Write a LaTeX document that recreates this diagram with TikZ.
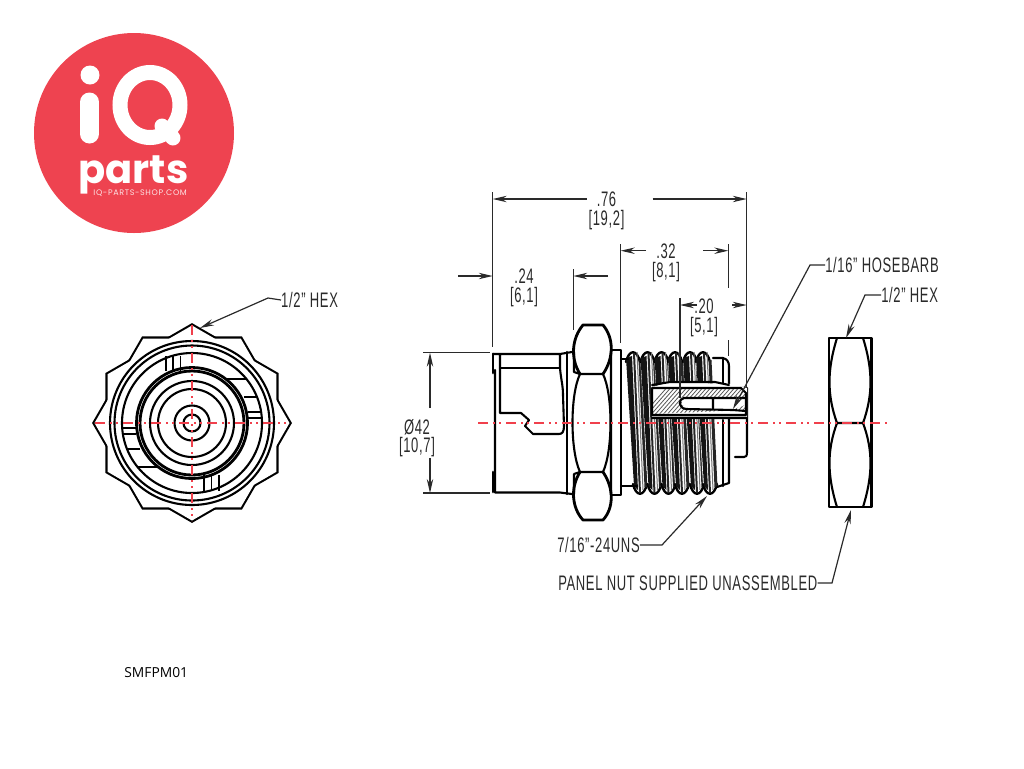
\documentclass[tikz,border=0pt]{standalone}
\usepackage{fontspec}
\setmainfont[LetterSpace=5]{Liberation Sans}
\newfontfamily\logofont{Poppins}
\newfontfamily\logosmall[LetterSpace=8]{Poppins}
\newfontfamily\codefont{Open Sans}
\usetikzlibrary{arrows.meta}
\definecolor{logored}{HTML}{EE4350}
\definecolor{inkgrey}{HTML}{2A2A2A}
\definecolor{linered}{HTML}{F0404C}
\tikzset{
  part/.style={line width=1.05pt,line join=round,line cap=round},
  thin part/.style={line width=.85pt,line join=round},
  center line/.style={color=linered,line width=.65pt,dash pattern=on 5pt off 2.5pt on 1pt off 2pt on 1pt off 2.5pt},
  ext/.style={color=inkgrey,line width=.6pt},
  dim/.style={color=inkgrey,line width=.6pt,-{Stealth[length=7pt,width=3.2pt]}},
  leader/.style={color=inkgrey,line width=.6pt,{Stealth[length=7pt,width=3.2pt]}-},
  dimtext/.style={color=inkgrey,inner sep=0pt,font=\fontsize{10.5}{10.5}\selectfont,xscale=.62,transform shape},
}
\begin{document}
\begin{tikzpicture}[x=.5pt,y=-.5pt]
\useasboundingbox (0,0) rectangle (1024,768);
% logo
\fill[logored] (134,133) circle[radius=100];
\fill[white] (90,75) circle[radius=9.5];
\draw[white,line width=9.5pt,line cap=round] (89.5,102) -- (89.5,134);
\draw[white,line width=7.5pt] (150,105) ellipse[x radius=30,y radius=32.5];
\draw[white,line width=7.5pt,line cap=round] (162,126) -- (173,138);
\node[white,inner sep=0pt,anchor=base west,font=\logofont\bfseries\fontsize{20}{20}\selectfont] (logoparts) at (78,183) {parts};
\node[white!85!logored,inner sep=0pt,anchor=base west,font=\logosmall\fontsize{4}{4}\selectfont] (logoshop) at (93,195) {IQ-PARTS-SHOP.COM};
\node[black,inner sep=0pt,anchor=base west,font=\codefont\fontsize{6.9}{6.9}\selectfont] (partcode) at (124,677) {SMFPM01};
% front view
\foreach \a in {0,90} \draw[line width=2.1pt,line join=miter,shift={(192,423)},rotate=\a] (90:97.5) -- (150:97.5) -- (210:97.5) -- (270:97.5) -- (330:97.5) -- (30:97.5) -- cycle;
\foreach \a in {0,90} \fill[white,shift={(192,423)},rotate=\a] (90:97.5) -- (150:97.5) -- (210:97.5) -- (270:97.5) -- (330:97.5) -- (30:97.5) -- cycle;
\foreach \r in {82,77.5,70,42,34,17.5,8.5} \draw[part] (192,423) circle[radius=\r];
\foreach \r in {55.5,52} \draw[part,line width=1.4pt] (192,423) circle[radius=\r];
\foreach \x in {166,173,180.5} \draw[thin part] (\x,356) -- (\x,371);
\foreach \x in {204,211.5,219} \draw[thin part] (\x,475) -- (\x,491);
\draw[thin part] (227,379) -- (247,379) (244,397) -- (257,397) (248,412) -- (262,412) (248,418) -- (262,418);
\draw[thin part] (122,428) -- (136,428) (122,434) -- (136,434) (127,449) -- (140,449) (137,467) -- (157,467);
\draw[center line] (192,325) -- (192,521);
\draw[center line] (95,423) -- (290,423);
% side view, threads
\foreach \x in {633,647.5,661.5,675,690,703} {
  \fill[white] (\x-7,362) .. controls (\x-4,349) and (\x+4,349) .. (\x+7,362) -- (\x+14,484) .. controls (\x+11,497) and (\x+3,497) .. (\x,484) -- cycle;
  \draw[part,line width=1.2pt] (\x-7,362) .. controls (\x-4,349) and (\x+4,349) .. (\x+7,362);
  \draw[part,line width=1.2pt] (\x,484) .. controls (\x+3,497) and (\x+11,497) .. (\x+14,484);
  \fill[black!92] (\x-7,358) -- (\x-1,356) -- (\x+5,490) -- (\x+1,486) -- cycle;
  \draw[line width=1pt,black!85] (\x+1,353) -- (\x+7,493);
  \draw[line width=1.5pt,black!85] (\x+7,360) -- (\x+13,487);
  \draw[line width=.5pt,black!55] (\x+4,352) -- (\x+10,490);
}
% side view, body
\draw[part] (493,354) -- (560,354) -- (560,368) .. controls (561,380) and (563,385) .. (563,395) -- (564,426) .. controls (564,432) and (562,434) .. (559,434) -- (533,434) -- (525,426) -- (529,420) -- (521,413) -- (500,413) (500,354) -- (500,413);
\draw[part] (500,368) -- (560,368);
\draw[part] (560,354) -- (572,352) (495,370) -- (495,492.5) -- (560,492.5) -- (572,494);
\draw[part,line width=1.4pt] (493,354) -- (493,373) (493,472) -- (493,492);
\draw[part] (567,352) -- (567,494);
% side view, hex and flange
\draw[part,line width=1.4pt] (580,374) .. controls (570,358) and (572,338) .. (583,325) -- (603,325) .. controls (614,338) and (614,358) .. (603,374);
\draw[part,line width=1.4pt] (580,472) .. controls (570,488) and (572,508) .. (583,520) -- (603,520) .. controls (614,508) and (614,488) .. (603,472);
\draw[part] (580,374) -- (603,374) .. controls (613,395) and (613,450) .. (603,472) -- (580,472) .. controls (570,450) and (570,395) .. (580,374);
\draw[part] (574,352) -- (574,372) -- (580,374) (574,494) -- (574,474) -- (580,472) (611,352) -- (611,494);
\draw[part] (611,350) -- (621,350) -- (621,495) -- (611,495);
\draw[part] (621,359) -- (628,359) (621,486) -- (637,486);
% side view, right end
\draw[part] (713,358) -- (723,358) .. controls (727,359) and (729,362) .. (729,366) -- (729,483) -- (717,487);
\draw[part] (723,358) -- (723,384) (723,420) -- (723,486);
\draw[part] (729,388) -- (747,388) -- (747,452) .. controls (747,456) and (746,457) .. (744,457) -- (735,457);
% barb section
\fill[white] (652,387) -- (670,382) -- (730,384) -- (747,388) -- (747,418) -- (652,418) -- cycle;
\begin{scope}
\clip (652,388) -- (741,388) -- (746,393) -- (746,410) -- (652,414) -- cycle;
\foreach \k in {0,4,...,160} \draw[black!65,line width=.4pt] (640+\k,418) -- (670+\k,384);
\end{scope}
\fill[white] (684,398) -- (745,398) -- (745,405) -- (734,409) -- (688,409) .. controls (682,409) and (680,398) .. (684,398) -- cycle;
\draw[part] (652,388) -- (741,388) -- (746,393) -- (746,415) -- (652,415) -- (652,388) (652,418) -- (747,418);
\draw[part] (652,385) -- (670,382) -- (715,382) -- (729,385);
\draw[part] (745,398) -- (684,398) .. controls (678,399) and (678,408) .. (686,409) -- (733,410) (713,398) -- (713,408) (746,411) -- (733,410);
% panel nut
\draw[part,line width=1.2pt] (829,338) rectangle (871.5,507);
\draw[part] (837,338) .. controls (827,370) and (827,395) .. (837,423) -- (863,423) .. controls (873,395) and (873,370) .. (863,338);
\draw[part] (837,507) .. controls (827,475) and (827,450) .. (837,423) (863,423) .. controls (873,450) and (873,475) .. (863,507);
\draw[center line] (478,423) -- (889,423);
% labels
\node[dimtext] (d76a) at (606.5,199) {.76};
\node[dimtext] (d76b) at (606.5,220) {[19,2]};
\node[dimtext] (d32a) at (666,251) {.32};
\node[dimtext] (d32b) at (666,272) {[8,1]};
\node[dimtext] (d24a) at (524,276) {.24};
\node[dimtext] (d24b) at (524,297) {[6,1]};
\node[dimtext] (d20a) at (704,306) {.20};
\node[dimtext] (d20b) at (704,327) {[5,1]};
\node[dimtext] (d42a) at (417,427) {Ø42};
\node[dimtext] (d42b) at (417,447) {[10,7]};
\node[dimtext,anchor=west] (hexfront) at (281,300) {1/2" HEX};
\node[dimtext,anchor=west] (hexnut) at (881,295) {1/2" HEX};
\node[dimtext,anchor=west] (barb) at (825,265) {1/16" HOSEBARB};
\node[dimtext,anchor=west] (thread) at (557,545) {7/16"-24UNS};
\node[dimtext,anchor=west] (nutnote) at (558,583) {PANEL NUT SUPPLIED UNASSEMBLED};
% extension lines
\draw[ext] (492.7,192) -- (492.7,347);
\draw[ext] (746.7,192) -- (746.7,388);
\draw[ext] (620.7,244) -- (620.7,343);
\draw[ext] (728.3,244) -- (728.3,288) (728.3,340) -- (728.3,356);
\draw[ext] (573.3,269) -- (573.3,330);
\draw[ext] (680,298) -- (680,398);
\draw[ext] (423,352.7) -- (490,352.7) (423,493) -- (490,493);
% dimension lines
\draw[dim] (586.7,199) -- (492.7,199);
\draw[dim] (652.7,199) -- (746.7,199);
\draw[dim] (646,250.7) -- (620.7,250.7);
\draw[dim] (703,250.7) -- (728.3,250.7);
\draw[dim] (458,276) -- (492.7,276);
\draw[dim] (608,276) -- (573.3,276);
\draw[dim] (697,305) -- (680,305);
\draw[dim] (732,305) -- (746.7,305);
\draw[dim] (430,408) -- (430,352.7);
\draw[dim] (430,458) -- (430,493);
% leaders
\coordinate (hexfronttip) at (200,328);
\coordinate (hexnuttip) at (846,338);
\coordinate (barbtip) at (733,409);
\coordinate (threadtip) at (707,496);
\coordinate (nutnotetip) at (851,510);
\draw[leader] (hexfronttip) -- (268,298) -- (hexfront.west);
\draw[leader] (hexnuttip) -- (865,295) -- (hexnut.west);
\draw[leader] (barbtip) -- (810,265) -- (barb.west);
\draw[leader] (threadtip) -- (662,545) -- (thread.east);
\draw[leader] (nutnotetip) -- (832,583) -- (nutnote.east);
\end{tikzpicture}
\end{document}
